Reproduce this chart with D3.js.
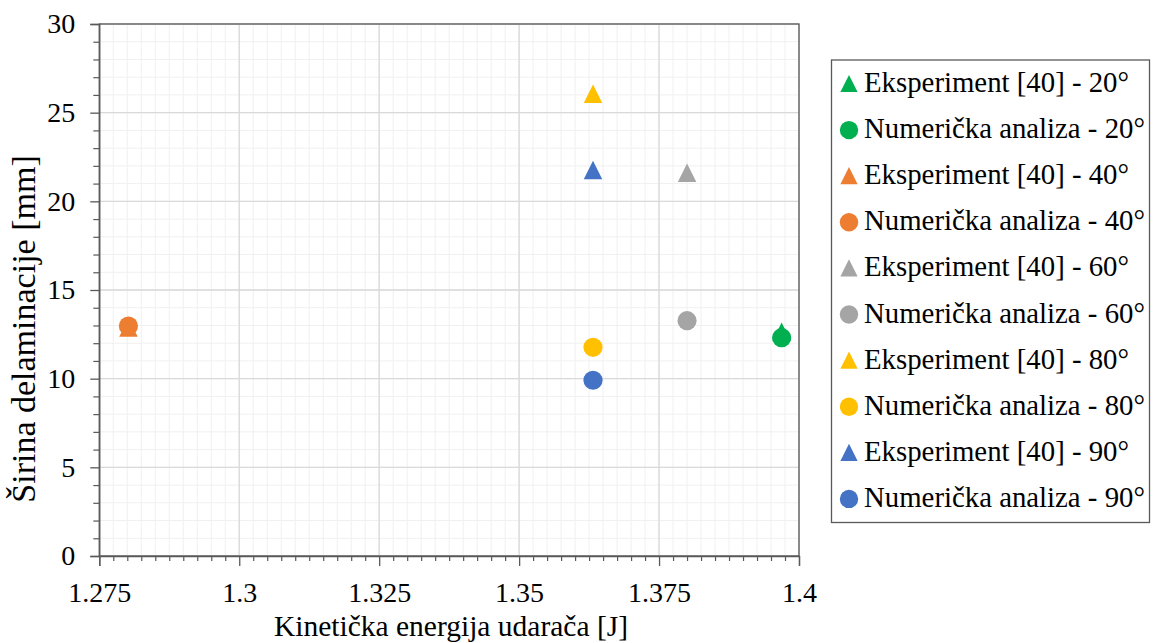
<!DOCTYPE html>
<html><head><meta charset="utf-8">
<script src="https://cdn.jsdelivr.net/npm/d3@7"></script>
<style>body{margin:0;background:#fff}</style>
</head><body><svg id="c" width="1153" height="643"></svg>
<script>
const seriesNames = ["Eksperiment [40] - 20°","Numerička analiza - 20°","Eksperiment [40] - 40°","Numerička analiza - 40°","Eksperiment [40] - 60°","Numerička analiza - 60°","Eksperiment [40] - 80°","Numerička analiza - 80°","Eksperiment [40] - 90°","Numerička analiza - 90°"];
const seriesShapes = ["triangle","circle","triangle","circle","triangle","circle","triangle","circle","triangle","circle"];
const seriesColors = ["#00b050","#00b050","#ed7d31","#ed7d31","#a5a5a5","#a5a5a5","#ffc000","#ffc000","#4472c4","#4472c4"];
const xValues = [1.3969,1.3969,1.2802,1.2802,1.38,1.38,1.3632,1.3632,1.3632,1.3632];
const yValues = [12.65,12.31,12.88,12.97,21.61,13.27,26.07,11.77,21.77,9.91];
const xTicks = [1.275,1.3,1.325,1.35,1.375,1.4];
const xTickLabels = ["1.275","1.3","1.325","1.35","1.375","1.4"];
const yTicks = [0,5,10,15,20,25,30];
const xTitle = "Kinetička energija udarača [J]";
const yTitle = "Širina delaminacije [mm]";

const FF = '"Liberation Serif", "Times New Roman", serif';
const svg = d3.select("#c");
const L=99.3,R=799,T=24,B=556;
const x = d3.scaleLinear().domain([1.275,1.4]).range([L,R]);
const y = d3.scaleLinear().domain([0,30]).range([B,T]);

const g = svg.append("g");
const xMinor = d3.range(0,51).map(i=>1.275+i*0.0025);
const yMinor = d3.range(0,31);
g.selectAll(".xm").data(xMinor).join("line").attr("x1",d=>x(d)).attr("x2",d=>x(d)).attr("y1",T).attr("y2",B).attr("stroke","#f0f0f0").attr("stroke-width",1);
g.selectAll(".ym").data(yMinor).join("line").attr("y1",d=>y(d)).attr("y2",d=>y(d)).attr("x1",L).attr("x2",R).attr("stroke","#f0f0f0").attr("stroke-width",1);
g.selectAll(".xg").data(xTicks).join("line").attr("x1",d=>x(d)).attr("x2",d=>x(d)).attr("y1",T).attr("y2",B).attr("stroke","#d9d9d9").attr("stroke-width",1.3);
g.selectAll(".yg").data(yTicks).join("line").attr("y1",d=>y(d)).attr("y2",d=>y(d)).attr("x1",L).attr("x2",R).attr("stroke","#d9d9d9").attr("stroke-width",1.3);
g.append("rect").attr("x",L).attr("y",T).attr("width",R-L).attr("height",B-T).attr("fill","none").attr("stroke","#595959").attr("stroke-width",1.3);

const xAxis = d3.axisBottom(x).tickValues(xTicks).tickFormat((d,i)=>xTickLabels[i]).tickSize(10).tickPadding(16);
const ax = svg.append("g").attr("transform",`translate(0,${B})`).call(xAxis).attr("font-family",null);
ax.selectAll(".domain").attr("stroke","#595959").attr("stroke-width",1.3);
ax.selectAll(".tick line").attr("stroke","#595959").attr("stroke-width",1.3);
ax.selectAll("text").style("font-family",FF).style("font-size","28px").attr("fill","#000");
const axm = svg.append("g").attr("transform",`translate(0,${B})`).call(d3.axisBottom(x).tickValues(xMinor.filter((d,i)=>i%10!==0)).tickSize(5).tickFormat(""));
axm.select(".domain").remove();
axm.selectAll(".tick line").attr("stroke","#595959").attr("stroke-width",1.2);

const yAxis = d3.axisLeft(y).tickValues(yTicks).tickSize(9).tickPadding(15);
const ay = svg.append("g").attr("transform",`translate(${L},0)`).call(yAxis).attr("font-family",null);
ay.selectAll(".domain").attr("stroke","#595959").attr("stroke-width",1.3);
ay.selectAll(".tick line").attr("stroke","#595959").attr("stroke-width",1.3);
ay.selectAll("text").style("font-family",FF).style("font-size","28px").attr("fill","#000");
const aym = svg.append("g").attr("transform",`translate(${L},0)`).call(d3.axisLeft(y).tickValues(yMinor.filter(d=>d%5!==0)).tickSize(6).tickFormat(""));
aym.select(".domain").remove();
aym.selectAll(".tick line").attr("stroke","#595959").attr("stroke-width",1.2);

svg.append("text").attr("x",451).attr("y",636).attr("text-anchor","middle").style("font-family",FF).style("font-size","29.5px").text(xTitle);
svg.append("text").attr("transform",`translate(35,${329}) rotate(-90)`).attr("text-anchor","middle").style("font-family",FF).style("font-size","34px").text(yTitle);

const triType = {draw(ctx,size){const s=Math.sqrt(size);ctx.moveTo(0,-s/2);ctx.lineTo(s/2,s/2);ctx.lineTo(-s/2,s/2);ctx.closePath();}};
const pts = seriesNames.map((n,i)=>({n,shape:seriesShapes[i],color:seriesColors[i],x:xValues[i],y:yValues[i]}));
const tri = d3.symbol().type(triType).size(18.5*18.5);
const circ = d3.symbol().type(d3.symbolCircle).size(Math.PI*9.6*9.6);
svg.append("g").selectAll("path").data(pts).join("path")
  .attr("transform",d=>`translate(${x(d.x)},${y(d.y)})`)
  .attr("d",d=>d.shape==="triangle"?tri():circ())
  .attr("fill",d=>d.color);

const lg = svg.append("g");
lg.append("rect").attr("x",831.5).attr("y",60).attr("width",318).attr("height",462.5).attr("fill","#fff").attr("stroke","#595959").attr("stroke-width",1.3);
const tri2 = d3.symbol().type(triType).size(17.2*17.2);
const circ2 = d3.symbol().type(d3.symbolCircle).size(Math.PI*9.2*9.2);
const items = lg.selectAll("g.it").data(pts).join("g").attr("transform",(d,i)=>`translate(0,${92+i*46.1})`);
items.append("path").attr("transform",d=>`translate(849,${d.shape==="triangle"?-8.5:-8})`).attr("d",d=>d.shape==="triangle"?tri2():circ2()).attr("fill",d=>d.color);
items.append("text").attr("x",864).attr("y",0).style("font-family",FF).style("font-size","28.8px").attr("fill","#000").text(d=>d.n);
</script></body></html>
